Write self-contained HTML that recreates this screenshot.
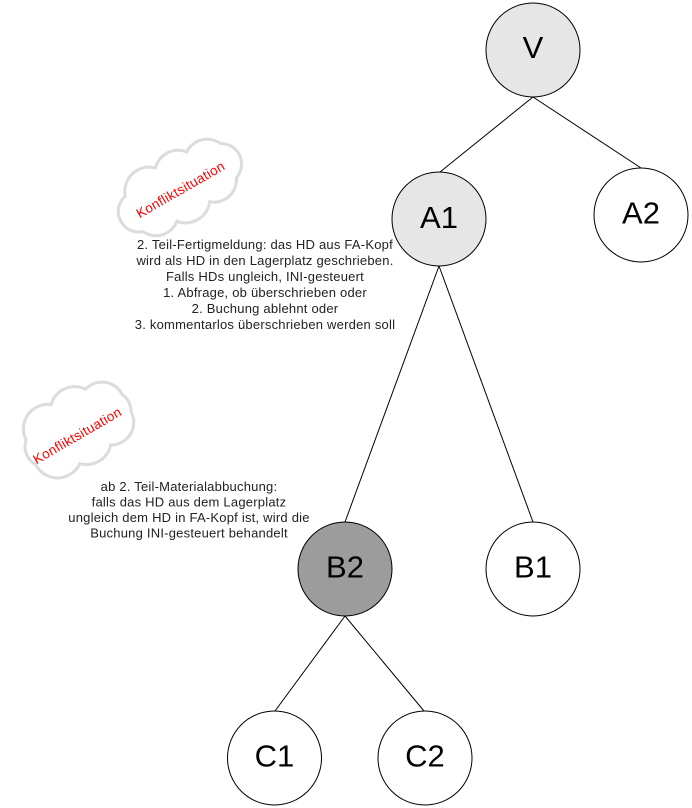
<!DOCTYPE html>
<html>
<head>
<meta charset="utf-8">
<style>
  html, body { margin: 0; padding: 0; background: #ffffff; }
  svg { display: block; }
  .node { stroke: #000; stroke-width: 1; }
  .lbl { font-family: "Liberation Sans", Arial, sans-serif; font-size: 31px; fill: #000; text-anchor: middle; }
  .body { font-family: "Liberation Sans", Arial, sans-serif; font-size: 13px; fill: #222; text-anchor: middle; letter-spacing: 0.22px; }
  .red { font-family: "Liberation Sans", Arial, sans-serif; font-size: 13.5px; fill: #ff0000; text-anchor: middle; letter-spacing: 0.3px; }
  .cs circle { fill: none; stroke: #dcdcdc; stroke-width: 6; }
  .cf circle { fill: #ffffff; stroke: none; }
</style>
</head>
<body>
<svg width="692" height="808" viewBox="0 0 692 808" xmlns="http://www.w3.org/2000/svg">
  <!-- connectors -->
  <g stroke="#000" stroke-width="1" fill="none">
    <line x1="533" y1="97" x2="440" y2="172"/>
    <line x1="533" y1="97" x2="641" y2="168"/>
    <line x1="439" y1="266" x2="345" y2="522"/>
    <line x1="439" y1="266" x2="533" y2="522"/>
    <line x1="345" y1="616" x2="275" y2="711"/>
    <line x1="345" y1="616" x2="424" y2="711"/>
  </g>

  <!-- cloud 1 -->
  <g transform="translate(179.5,188) rotate(-30)">
    <g class="cs">
      <circle cx="-28" cy="-12" r="23"/>
      <circle cx="6" cy="-13" r="22"/>
      <circle cx="37" cy="-9" r="21"/>
      <circle cx="-33" cy="10" r="21"/>
      <circle cx="0" cy="12" r="23"/>
      <circle cx="34" cy="10" r="21"/>
      <circle cx="-47" cy="0" r="19"/>
      <circle cx="48" cy="0" r="19"/>
      <circle cx="0" cy="0" r="25"/>
    </g>
    <g class="cf">
      <circle cx="-28" cy="-12" r="23"/>
      <circle cx="6" cy="-13" r="22"/>
      <circle cx="37" cy="-9" r="21"/>
      <circle cx="-33" cy="10" r="21"/>
      <circle cx="0" cy="12" r="23"/>
      <circle cx="34" cy="10" r="21"/>
      <circle cx="-47" cy="0" r="19"/>
      <circle cx="48" cy="0" r="19"/>
      <circle cx="0" cy="0" r="25"/>
    </g>
    <text class="red" x="0" y="6.5">Konfliktsituation</text>
  </g>

  <!-- cloud 2 -->
  <g transform="translate(77.5,428) rotate(-30)">
    <g class="cs">
      <circle cx="-26" cy="-14" r="23"/>
      <circle cx="6" cy="-16" r="23"/>
      <circle cx="33" cy="-8" r="21"/>
      <circle cx="-30" cy="12" r="23"/>
      <circle cx="2" cy="15" r="23"/>
      <circle cx="32" cy="12" r="21"/>
      <circle cx="-37" cy="0" r="19"/>
      <circle cx="37" cy="2" r="19"/>
      <circle cx="0" cy="0" r="25"/>
    </g>
    <g class="cf">
      <circle cx="-26" cy="-14" r="23"/>
      <circle cx="6" cy="-16" r="23"/>
      <circle cx="33" cy="-8" r="21"/>
      <circle cx="-30" cy="12" r="23"/>
      <circle cx="2" cy="15" r="23"/>
      <circle cx="32" cy="12" r="21"/>
      <circle cx="-37" cy="0" r="19"/>
      <circle cx="37" cy="2" r="19"/>
      <circle cx="0" cy="0" r="25"/>
    </g>
    <text class="red" x="-4" y="11">Konfliktsituation</text>
  </g>

  <!-- annotation text 1 -->
  <text class="body" x="265" y="249">2. Teil-Fertigmeldung: das HD aus FA-Kopf</text>
  <text class="body" x="265" y="265">wird als HD in den Lagerplatz geschrieben.</text>
  <text class="body" x="265" y="281">Falls HDs ungleich, INI-gesteuert</text>
  <text class="body" x="265" y="297">1. Abfrage, ob überschrieben oder</text>
  <text class="body" x="265" y="313">2. Buchung ablehnt oder</text>
  <text class="body" x="265" y="329">3. kommentarlos überschrieben werden soll</text>

  <!-- annotation text 2 -->
  <text class="body" x="189" y="491">ab 2. Teil-Materialabbuchung:</text>
  <text class="body" x="189" y="506.5">falls das HD aus dem Lagerplatz</text>
  <text class="body" x="189" y="522">ungleich dem HD in FA-Kopf ist, wird die</text>
  <text class="body" x="189" y="537.5">Buchung INI-gesteuert behandelt</text>

  <!-- nodes -->
  <circle class="node" cx="533" cy="50" r="47" fill="#e6e6e6"/>
  <text class="lbl" x="533" y="58">V</text>

  <circle class="node" cx="439" cy="219" r="47" fill="#e6e6e6"/>
  <text class="lbl" x="439" y="228">A1</text>

  <circle class="node" cx="641" cy="215" r="47" fill="#ffffff"/>
  <text class="lbl" x="641" y="223.5">A2</text>

  <circle class="node" cx="345" cy="569" r="47" fill="#9c9c9c"/>
  <text class="lbl" x="345" y="577.5">B2</text>

  <circle class="node" cx="533" cy="569" r="47" fill="#ffffff"/>
  <text class="lbl" x="533" y="577.5">B1</text>

  <circle class="node" cx="274.5" cy="758" r="47" fill="#ffffff"/>
  <text class="lbl" x="274.5" y="766.5">C1</text>

  <circle class="node" cx="425" cy="758" r="47" fill="#ffffff"/>
  <text class="lbl" x="425" y="766.5">C2</text>
</svg>
</body>
</html>
